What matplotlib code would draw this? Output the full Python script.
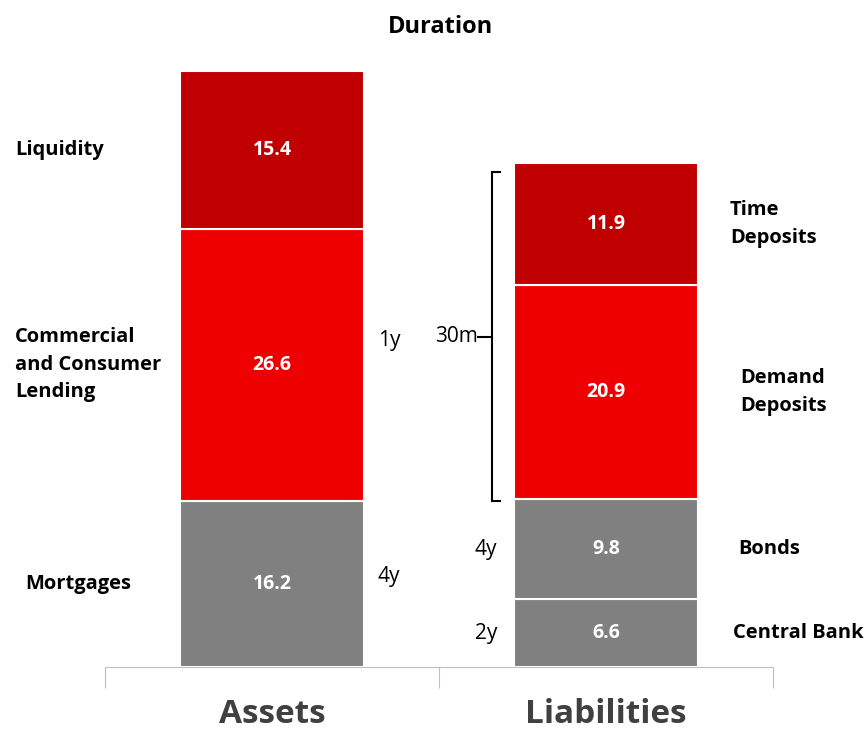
import matplotlib
matplotlib.use('Agg')
from matplotlib import pyplot as plt
from matplotlib.lines import Line2D

plt.rcParams['font.family'] = ['Open Sans', 'DejaVu Sans']

# data
categories = ['Assets', 'Liabilities']
asset_names = ['Mortgages', 'Commercial\nand Consumer\nLending', 'Liquidity']
asset_vals = [16.2, 26.6, 15.4]
asset_dur = ['4y', '1y', '']
liab_names = ['Central Bank', 'Bonds', 'Demand\nDeposits', 'Time\nDeposits']
liab_vals = [6.6, 9.8, 20.9, 11.9]
liab_dur = ['2y', '4y', '', '']
bracket_label = '30m'

gray, red, dark = '#808080', '#EE0000', '#C00000'
asset_cols = [gray, red, dark]
liab_cols = [gray, gray, red, dark]

fig = plt.figure(figsize=(8.68, 7.37), dpi=100)
ax = fig.add_axes([105 / 868, 70 / 737, 668 / 868, 596 / 737])
width = 0.55

# stacked bars
def stack(x, vals, cols):
    bottom = 0
    mids = []
    for v, c in zip(vals, cols):
        ax.bar(x, v, width, bottom=bottom, color=c, edgecolor='white', linewidth=1.5)
        mids.append(bottom + v / 2)
        ax.text(x, bottom + v / 2, f'{v:.1f}', color='white', fontsize=14,
                fontweight='bold', ha='center', va='center')
        bottom += v
    return mids

a_mid = stack(0, asset_vals, asset_cols)
l_mid = stack(1, liab_vals, liab_cols)

# left labels (assets)
a_x = [-0.74, -0.769, -0.769]
for name, y, x in zip(asset_names, a_mid, a_x):
    ax.text(x, y, name, fontsize=14.5, fontweight='bold', ha='left', va='center',
            linespacing=1.5)
# right labels (liabilities)
l_x = [1.380, 1.395, 1.401, 1.371]
for name, y, x in zip(liab_names, l_mid, l_x):
    ax.text(x, y, name, fontsize=14.5, fontweight='bold', ha='left', va='center',
            linespacing=1.5)

# duration labels
ax.text(0.317, 8.8, asset_dur[0], fontsize=15, ha='left', va='center')
ax.text(0.317, 31.9, asset_dur[1], fontsize=15, ha='left', va='center')
for d, y in zip(liab_dur[:2], l_mid[:2]):
    ax.text(0.674, y, d, fontsize=15, ha='right', va='center')

# bracket around deposits
b_lo = sum(liab_vals[:2]) - 0.2
b_hi = sum(liab_vals) - 0.9
b_mid = (b_lo + b_hi) / 2
bx = 0.659
for xs, ys in [([bx, bx], [b_lo, b_hi]), ([bx, 0.683], [b_hi, b_hi]),
               ([bx, 0.683], [b_lo, b_lo]), ([0.617, bx], [b_mid, b_mid])]:
    ax.add_line(Line2D(xs, ys, color='black', lw=1.5, clip_on=False))
ax.text(0.617, b_mid, bracket_label, fontsize=15, ha='right', va='center')

ax.set_xlim(-0.5, 1.5)
ax.set_ylim(0, sum(asset_vals))
for s in ['top', 'right', 'left']:
    ax.spines[s].set_visible(False)
ax.spines['bottom'].set_color('#BFBFBF')
ax.set_yticks([])
ax.set_xticks([-0.5, 0.5, 1.5])
ax.set_xticklabels([])
ax.tick_params(axis='x', which='major', length=15, color='#BFBFBF', direction='out')
ax.set_xticks([0, 1], minor=True)
ax.set_xticklabels(categories, minor=True, fontsize=24, fontweight='bold', color='#404040')
ax.tick_params(axis='x', which='minor', length=0, pad=22)

fig.text(440 / 868, 1 - 27 / 737, 'Duration', fontsize=17, fontweight='bold',
         ha='center', va='center')

fig.savefig('out.png', dpi=100)
